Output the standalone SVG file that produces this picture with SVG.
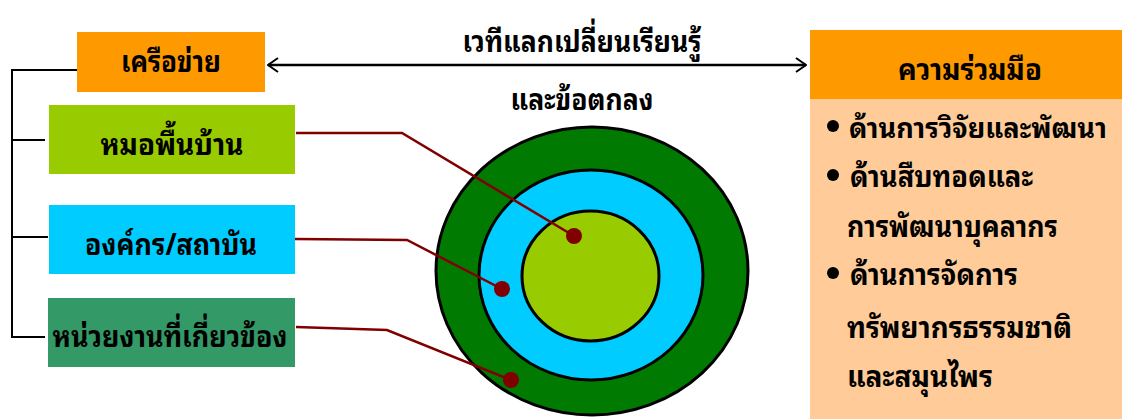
<svg xmlns="http://www.w3.org/2000/svg" width="1122" height="419" viewBox="0 0 1122 419">
<defs>
<style>
.t{font-family:"Noto Sans Thai Looped","Noto Serif Thai","Noto Sans Thai","Noto Sans","DejaVu Sans",sans-serif;font-weight:bold;font-size:30px;fill:#000;}
.c{text-anchor:middle;}
.s{font-size:27px;}
.br{stroke:#000;stroke-width:2;fill:none;}
.ld{stroke:#800000;stroke-width:2.5;fill:none;}
.dot{fill:#800000;}
.ring{stroke:#000;stroke-width:3;}
</style>
<marker id="ah" viewBox="0 0 12 16" refX="11" refY="8" markerWidth="12" markerHeight="16" markerUnits="userSpaceOnUse" orient="auto-start-reverse">
<path d="M1,1 L11,8 L1,15" fill="none" stroke="#000" stroke-width="2"/>
</marker>
</defs>
<rect width="1122" height="419" fill="#fff"/>
<g id="rings">
<ellipse cx="592" cy="271" rx="156" ry="144" fill="#007a00" class="ring"/>
<ellipse cx="591" cy="275" rx="112" ry="105" fill="#00ccff" class="ring"/>
<ellipse cx="590.5" cy="276" rx="68.5" ry="65" fill="#99cc00" class="ring"/>
</g>
<g id="connectors">
<polyline class="br" points="77,70 12,70 12,337 45,337"/>
<line class="br" x1="12" y1="140" x2="45" y2="140"/>
<line class="br" x1="12" y1="237" x2="48" y2="237"/>
<line x1="268" y1="65" x2="806" y2="65" stroke="#000" stroke-width="2.5" marker-start="url(#ah)" marker-end="url(#ah)"/>
<polyline class="ld" points="296,133 402,133 574,236"/>
<polyline class="ld" points="295,239 407,240 502,289"/>
<polyline class="ld" points="296,327 387,330 511,380"/>
<circle class="dot" cx="574" cy="236" r="8"/>
<circle class="dot" cx="502" cy="289" r="8"/>
<circle class="dot" cx="511" cy="380" r="8"/>
</g>
<g id="label-forum">
<text class="t c" x="582" y="52" textLength="239" lengthAdjust="spacingAndGlyphs">เวทีแลกเปลี่ยนเรียนรู้</text>
<text class="t c" x="582" y="110" textLength="143" lengthAdjust="spacingAndGlyphs">และข้อตกลง</text>
</g>
<g id="network">
<rect x="77" y="32" width="188" height="60" fill="#ff9900"/>
<text class="t c" x="171" y="72" textLength="100" lengthAdjust="spacingAndGlyphs">เครือข่าย</text>
</g>
<g id="healer">
<rect x="49" y="105" width="246" height="69" fill="#99cc00"/>
<text class="t c" x="172" y="155" textLength="143" lengthAdjust="spacingAndGlyphs">หมอพื้นบ้าน</text>
</g>
<g id="org">
<rect x="49" y="205" width="246" height="69" fill="#00ccff"/>
<text class="t c" x="171" y="255" textLength="172" lengthAdjust="spacingAndGlyphs">องค์กร/สถาบัน</text>
</g>
<g id="agency">
<rect x="48" y="298" width="247" height="69" fill="#339966"/>
<text class="t c" x="170" y="347" textLength="235" lengthAdjust="spacingAndGlyphs">หน่วยงานที่เกี่ยวข้อง</text>
</g>
<g id="cooperation">
<rect x="810" y="99" width="312" height="320" fill="#ffcc99"/>
<rect x="810" y="30" width="312" height="69" fill="#ff9900"/>
<text class="t c" x="970" y="80" textLength="144" lengthAdjust="spacingAndGlyphs">ความร่วมมือ</text>
<circle cx="833" cy="126" r="6" fill="#000"/>
<text class="t s" x="849" y="138" textLength="258" lengthAdjust="spacingAndGlyphs">ด้านการวิจัยและพัฒนา</text>
<circle cx="833" cy="175" r="6" fill="#000"/>
<text class="t" x="850" y="187" textLength="183" lengthAdjust="spacingAndGlyphs">ด้านสืบทอดและ</text>
<text class="t" x="847" y="237" textLength="211" lengthAdjust="spacingAndGlyphs">การพัฒนาบุคลากร</text>
<circle cx="833" cy="273" r="6" fill="#000"/>
<text class="t" x="850" y="285" textLength="168" lengthAdjust="spacingAndGlyphs">ด้านการจัดการ</text>
<text class="t" x="847" y="338" textLength="225" lengthAdjust="spacingAndGlyphs">ทรัพยากรธรรมชาติ</text>
<text class="t" x="847" y="387" textLength="146" lengthAdjust="spacingAndGlyphs">และสมุนไพร</text>
</g>
</svg>
